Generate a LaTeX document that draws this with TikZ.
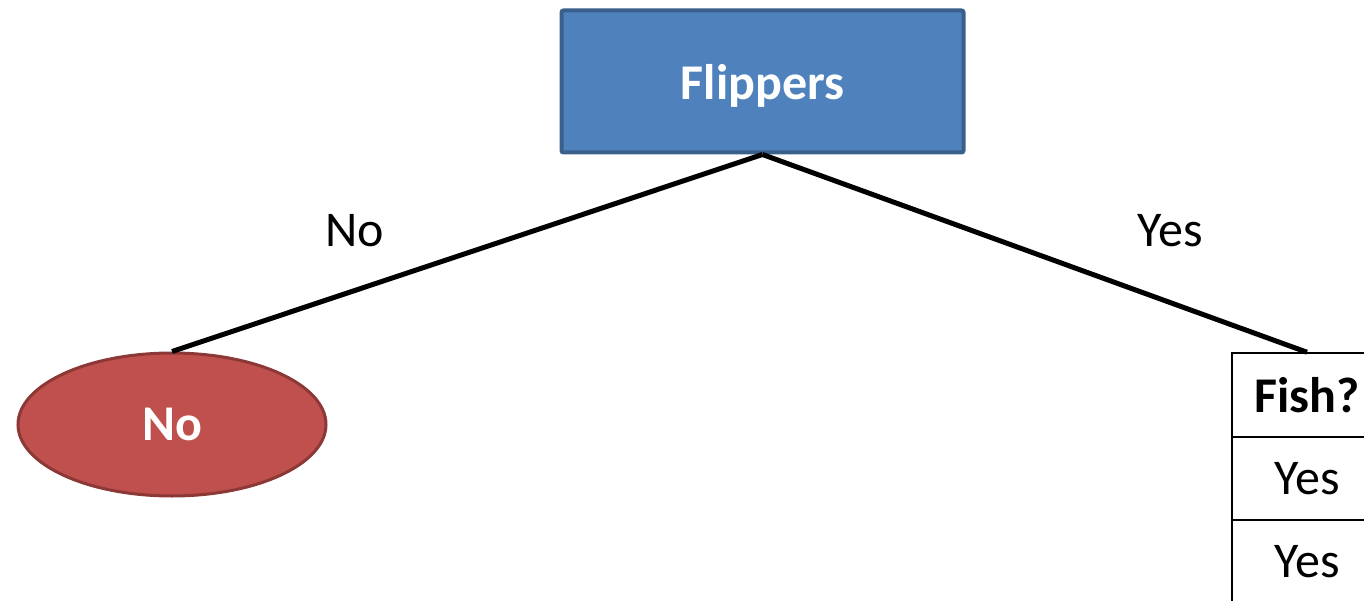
\documentclass[tikz,border=0pt]{standalone}
\usepackage{fontspec}
\setmainfont{Carlito}
\usetikzlibrary{shapes.geometric}
\definecolor{boxfill}{HTML}{4F81BD}
\definecolor{boxline}{HTML}{3A5F8B}
\definecolor{ellfill}{HTML}{C0504D}
\definecolor{ellline}{HTML}{8C3836}
\tikzset{
  big/.style={font=\fontsize{50}{60}\selectfont},
  decision/.style={draw=boxline, fill=boxfill, line width=4pt, rounded corners=2pt,
    minimum width=402pt, minimum height=142pt, inner sep=0pt, text=white, text depth=0pt, font=\fontsize{50}{60}\selectfont\bfseries},
  leaf/.style={ellipse, draw=ellline, fill=ellfill, line width=3pt,
    minimum width=308pt, minimum height=143pt, inner sep=0pt, text=white, font=\fontsize{50}{60}\selectfont\bfseries},
  branch/.style={line width=5pt, black},
  cell/.style={draw=black, line width=2pt, minimum width=150pt, minimum height=83.5pt, inner sep=0pt, big},
  edgelabel/.style={big}
}
\begin{document}
\begin{tikzpicture}[x=1pt,y=-1pt]
\useasboundingbox (0,0) rectangle (1364,601);
\node[decision] (flip) at (762.5,81.5) {Flippers};
\node[leaf] (no) at (172,424.5) {No};
\node[cell, font=\fontsize{50}{60}\selectfont\bfseries] (fish) at (1307,395) {Fish?};
\node[cell] (y1) at (1307,478.5) {Yes};
\node[cell] (y2) at (1307,562) {Yes};
\draw[branch] (flip.south) -- (no.north);
\draw[branch] (flip.south) -- (fish.north);
\node[edgelabel] (lno) at (355,231) {No};
\node[edgelabel] (lyes) at (1170,231) {Yes};
\end{tikzpicture}
\end{document}
